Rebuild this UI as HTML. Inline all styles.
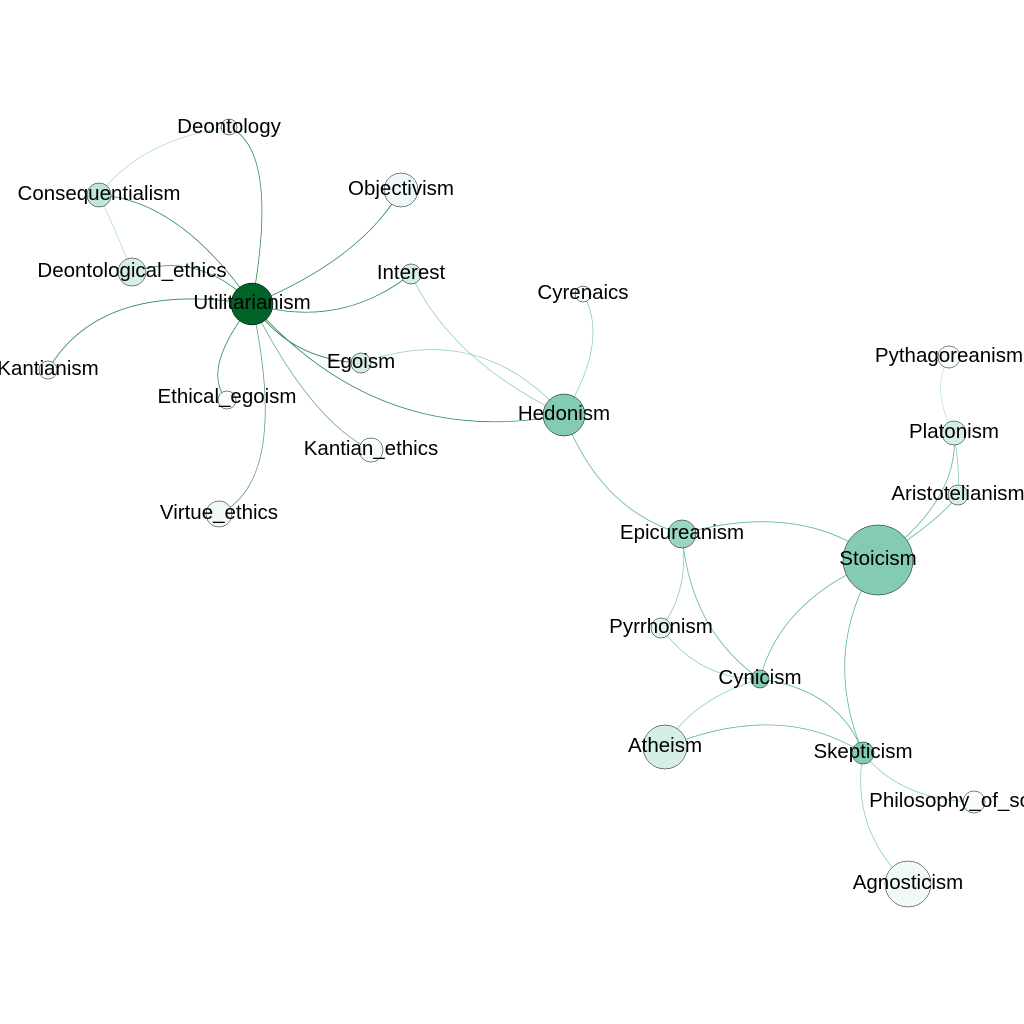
<!DOCTYPE html>
<html><head><meta charset="utf-8"><style>
html,body{margin:0;padding:0;background:#fff;}
svg{display:block;}
text{font-family:"Liberation Sans",sans-serif;font-size:20.5px;fill:#000;}
</style></head><body>
<svg width="1024" height="1024" viewBox="0 0 1024 1024" xmlns="http://www.w3.org/2000/svg">
<g fill="none" stroke-width="0.8">
<path d="M252,304 Q280,150 229,127" stroke="#2e8b57"/>
<path d="M252,304 Q180,200 99,195" stroke="#2e8b57"/>
<path d="M252,304 Q200,250 132,272" stroke="#2e8b57"/>
<path d="M252,304 Q100,280 48,370" stroke="#2e8b57"/>
<path d="M252,304 Q360,260 401,190" stroke="#2e8b57"/>
<path d="M252,304 Q340,330 411,274" stroke="#2e8b57"/>
<path d="M252,304 Q290,360 361,363" stroke="#2e8b57"/>
<path d="M252,304 Q200,370 227,400" stroke="#2e8b57"/>
<path d="M252,304 Q310,420 371,450" stroke="#2e8b57" opacity="0.7"/>
<path d="M252,304 Q290,480 219,514" stroke="#2e8b57" opacity="0.8"/>
<path d="M252,304 Q380,450 564,415" stroke="#2e8b57"/>
<path d="M229,127 Q140,140 99,195" stroke="#8fd0b8" opacity="0.7"/>
<path d="M99,195 Q120,240 132,272" stroke="#8fd0b8" opacity="0.7"/>
<path d="M361,363 Q480,320 564,415" stroke="#8fd0b8"/>
<path d="M411,274 Q450,360 564,415" stroke="#8fd0b8"/>
<path d="M583,294 Q610,340 564,415" stroke="#8fd0b8"/>
<path d="M564,415 Q600,510 682,534" stroke="#5fb896"/>
<path d="M682,534 Q800,500 878,560" stroke="#5fb896"/>
<path d="M682,534 Q690,590 661,628" stroke="#8fd0b8"/>
<path d="M682,534 Q690,630 760,679" stroke="#5fb896"/>
<path d="M661,628 Q700,680 760,679" stroke="#8fd0b8"/>
<path d="M878,560 Q780,600 760,679" stroke="#5fb896"/>
<path d="M878,560 Q820,650 863,753" stroke="#5fb896"/>
<path d="M878,560 Q940,520 958,495" stroke="#5fb896"/>
<path d="M878,560 Q960,500 954,433" stroke="#5fb896"/>
<path d="M954,433 Q960,470 958,495" stroke="#8fd0b8"/>
<path d="M954,433 Q930,390 949,357" stroke="#bfe6d8"/>
<path d="M760,679 Q690,700 665,747" stroke="#8fd0b8"/>
<path d="M760,679 Q840,690 863,753" stroke="#5fb896"/>
<path d="M665,747 Q780,700 863,753" stroke="#5fb896"/>
<path d="M863,753 Q900,800 974,802" stroke="#8fd0b8"/>
<path d="M863,753 Q850,830 908,884" stroke="#8fd0b8"/>
</g>
<g stroke="#000" stroke-width="0.5">
<circle cx="229" cy="127" r="8" fill="#eef8f6"/>
<circle cx="99" cy="195" r="12" fill="#bde6d7"/>
<circle cx="132" cy="272" r="14" fill="#d5efe8"/>
<circle cx="48" cy="370" r="9" fill="#f4fbfb"/>
<circle cx="401" cy="190" r="17" fill="#eef8f8"/>
<circle cx="411" cy="274" r="10" fill="#d5efe8"/>
<circle cx="583" cy="294" r="8" fill="#f7fcfd"/>
<circle cx="361" cy="363" r="10" fill="#d5efe8"/>
<circle cx="227" cy="400" r="9" fill="#f7fcfd"/>
<circle cx="371" cy="450" r="12" fill="#f7fcfd"/>
<circle cx="219" cy="514" r="13" fill="#f0f9f8"/>
<circle cx="252" cy="304" r="21" fill="#006428"/>
<circle cx="564" cy="415" r="21" fill="#83cbb5"/>
<circle cx="682" cy="534" r="14" fill="#9ad6c1"/>
<circle cx="878" cy="560" r="35" fill="#83cbb5"/>
<circle cx="949" cy="357" r="11" fill="#f7fcfd"/>
<circle cx="954" cy="433" r="12" fill="#d5efe8"/>
<circle cx="958" cy="495" r="10" fill="#d5efe8"/>
<circle cx="661" cy="628" r="10" fill="#e2f4ef"/>
<circle cx="760" cy="679" r="9" fill="#83cbb5"/>
<circle cx="665" cy="747" r="22" fill="#d5efe8"/>
<circle cx="863" cy="753" r="11" fill="#83cbb5"/>
<circle cx="974" cy="802" r="11" fill="#f7fcfd"/>
<circle cx="908" cy="884" r="23" fill="#f0f9f8"/>
</g>
<g text-anchor="middle">
<text x="229" y="133">Deontology</text>
<text x="99" y="200">Consequentialism</text>
<text x="132" y="277">Deontological_ethics</text>
<text x="48" y="375">Kantianism</text>
<text x="401" y="195">Objectivism</text>
<text x="411" y="279">Interest</text>
<text x="583" y="299">Cyrenaics</text>
<text x="361" y="368">Egoism</text>
<text x="227" y="403">Ethical_egoism</text>
<text x="371" y="455">Kantian_ethics</text>
<text x="219" y="519">Virtue_ethics</text>
<text x="252" y="309">Utilitarianism</text>
<text x="564" y="420">Hedonism</text>
<text x="682" y="539">Epicureanism</text>
<text x="878" y="565">Stoicism</text>
<text x="949" y="362">Pythagoreanism</text>
<text x="954" y="438">Platonism</text>
<text x="958" y="500">Aristotelianism</text>
<text x="661" y="633">Pyrrhonism</text>
<text x="760" y="684">Cynicism</text>
<text x="665" y="752">Atheism</text>
<text x="863" y="758">Skepticism</text>
<text x="974" y="807">Philosophy_of_science</text>
<text x="908" y="889">Agnosticism</text>
</g>
</svg>
</body></html>
